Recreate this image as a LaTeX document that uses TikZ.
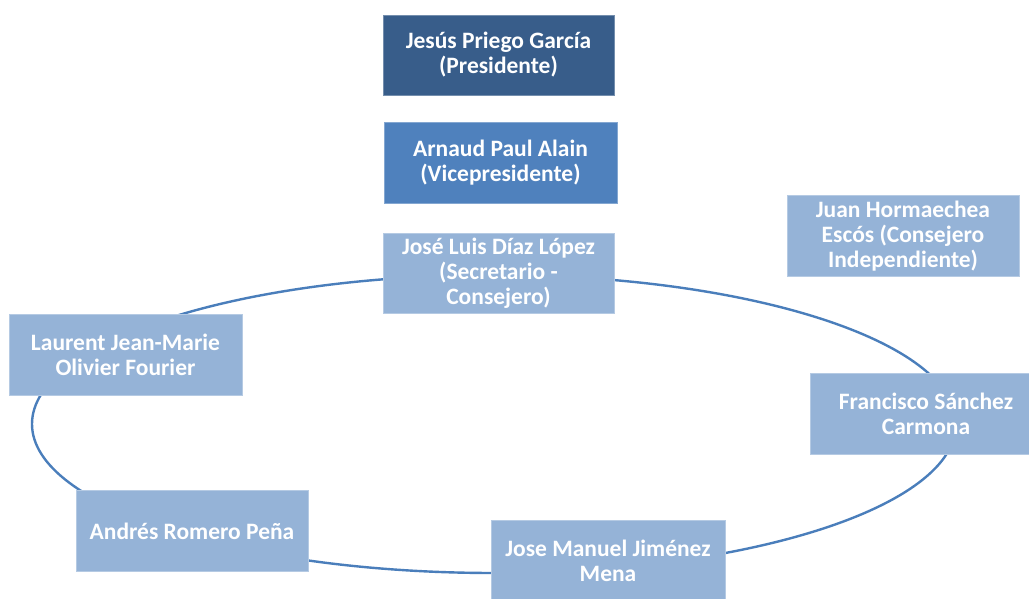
\documentclass[tikz,border=0pt]{standalone}
\usepackage{fontspec}
\setmainfont{Carlito}
\definecolor{darkbox}{HTML}{385D8A}
\definecolor{midbox}{HTML}{4F81BD}
\definecolor{lightbox}{HTML}{95B3D7}
\definecolor{ringline}{HTML}{4A7EBB}
\tikzset{
  member/.style={rectangle, fill=lightbox, draw=lightbox!70!white, line width=0.8pt,
    minimum width=232pt, minimum height=81pt, text=white, align=center, inner sep=2pt,
    font=\fontsize{23.5}{25}\selectfont\bfseries},
  ring/.style={draw=ringline, line width=2.4pt}
}
\begin{document}
\begin{tikzpicture}[x=1pt,y=-1pt]
\useasboundingbox (0,0) rectangle (1029,599);
\clip (0,0) rectangle (1029,599);
\fill[white] (0,0) rectangle (1029,599);
\draw[ring] (494,424) ellipse [x radius=462pt, y radius=149pt];
\node[member, fill=darkbox, draw=darkbox!70!white, minimum width=231pt, minimum height=80pt] (pres) at (498.5,55) {Jesús Priego García\\(Presidente)};
\node[member, fill=midbox, draw=midbox!70!white, minimum width=233pt] (vice) at (500.5,162.5) {Arnaud Paul Alain\\(Vicepresidente)};
\node[member, minimum width=231pt, minimum height=80pt] (sec) at (498.5,273) {José Luis Díaz López\\(Secretario -\\Consejero)};
\node[member] (juan) at (903,236) {Juan Hormaechea\\Escós (Consejero\\Independiente)};
\node[member, minimum width=233pt] (laur) at (125.5,355) {Laurent Jean-Marie\\Olivier Fourier};
\node[member] (fran) at (926,414) {Francisco Sánchez\\Carmona};
\node[member] (andr) at (192,531) {Andrés Romero Peña};
\node[member, minimum width=234pt] (jose) at (608,561) {Jose Manuel Jiménez\\Mena};
\end{tikzpicture}
\end{document}
